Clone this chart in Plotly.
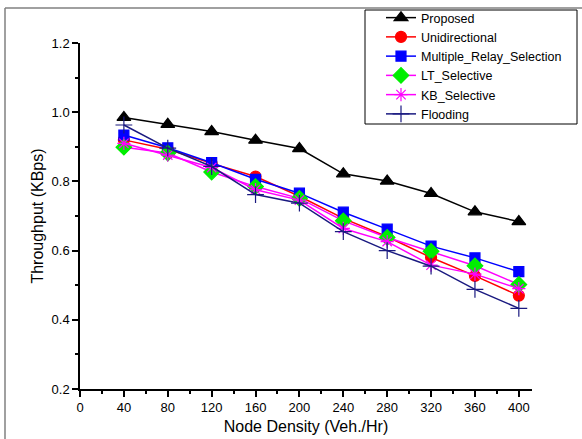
import plotly.graph_objects as go

node_density = [40, 80, 120, 160, 200, 240, 280, 320, 360, 400]
proposed = [0.985, 0.965, 0.944, 0.919, 0.895, 0.822, 0.801, 0.765, 0.712, 0.684]
unidirectional = [0.920, 0.893, 0.852, 0.814, 0.757, 0.693, 0.640, 0.580, 0.527, 0.470]
multiple_relay = [0.934, 0.897, 0.854, 0.806, 0.766, 0.711, 0.662, 0.613, 0.579, 0.539]
lt_selective = [0.899, 0.882, 0.827, 0.785, 0.751, 0.686, 0.638, 0.598, 0.556, 0.502]
kb_selective = [0.910, 0.876, 0.840, 0.776, 0.746, 0.664, 0.626, 0.558, 0.532, 0.490]
flooding = [0.963, 0.896, 0.843, 0.762, 0.737, 0.655, 0.600, 0.555, 0.488, 0.433]

x_ticks = [0, 40, 80, 120, 160, 200, 240, 280, 320, 360, 400]
y_ticks = [0.2, 0.4, 0.6, 0.8, 1.0, 1.2]

series = [
    ("Proposed", proposed, "black", "triangle-up", 12, None),
    ("Unidirectional", unidirectional, "red", "circle", 11, None),
    ("Multiple_Relay_Selection", multiple_relay, "blue", "square", 10, None),
    ("LT_Selective", lt_selective, "magenta", "diamond", 12, "#00ee00"),
    ("KB_Selective", kb_selective, "magenta", "asterisk-open", 11, None),
    ("Flooding", flooding, "#1a1a80", "cross-thin-open", 12, None),
]

fig = go.Figure()
for name, ys, color, sym, size, mcolor in series:
    mc = mcolor if mcolor else color
    fig.add_trace(go.Scatter(
        x=node_density, y=ys, name=name, mode="lines+markers",
        line=dict(color=color, width=1.5),
        marker=dict(symbol=sym, size=size, color=mc,
                    line=dict(color=mc, width=1.2)),
    ))

L, T, W, H = 80, 43, 452, 346


def px_x(p):
    return (p - L) / W


def px_y(p):
    return (T + H - p) / H


fig.update_layout(
    width=582, height=439,
    margin=dict(l=L, r=582 - L - W, t=T, b=439 - T - H, autoexpand=False),
    paper_bgcolor="white", plot_bgcolor="white",
    font=dict(family="Liberation Sans, Arial, sans-serif", size=13, color="black"),
    showlegend=True,
    legend=dict(
        x=px_x(381), y=px_y(3), xanchor="left", yanchor="top",
        borderwidth=0, bgcolor="rgba(0,0,0,0)",
        font=dict(size=12.5), tracegroupgap=0, itemwidth=30,
    ),
    xaxis=dict(
        range=[0, 412], tickvals=x_ticks, showgrid=False, zeroline=False, automargin=False,
        showline=True, linecolor="black", linewidth=1.5,
        ticks="outside", ticklen=6, tickwidth=1.5, tickcolor="black",
        minor=dict(dtick=20, tick0=0, ticks="outside", ticklen=3, tickwidth=1.5, tickcolor="black"),
        title=dict(text="Node Density (Veh./Hr)", font=dict(size=16), standoff=6),
        tickfont=dict(size=13),
    ),
    yaxis=dict(
        range=[0.2, 1.2], tickvals=y_ticks, tickformat=".1f", showgrid=False, zeroline=False,
        automargin=False,
        showline=True, linecolor="black", linewidth=1.5,
        ticks="outside", ticklen=6, tickwidth=1.5, tickcolor="black",
        minor=dict(dtick=0.1, tick0=0.2, ticks="outside", ticklen=3, tickwidth=1.5, tickcolor="black"),
        title=dict(text="Throughput (KBps)", font=dict(size=16), standoff=4),
        tickfont=dict(size=13),
    ),
)

# legend frame
fig.add_shape(type="rect", xref="paper", yref="paper",
              x0=px_x(365), x1=px_x(577), y0=px_y(124), y1=px_y(10),
              line=dict(color="black", width=1), fillcolor="white", layer="below")

# outer frame (grey) at left and top of the picture
xl = px_x(5)
yt = px_y(8)
fig.add_shape(type="line", xref="paper", yref="paper", x0=xl, x1=xl, y0=-0.3, y1=yt,
              line=dict(color="#808080", width=1.5))
fig.add_shape(type="line", xref="paper", yref="paper", x0=xl, x1=1.3, y0=yt, y1=yt,
              line=dict(color="#808080", width=1.5))

fig.write_html(
    "out.html",
    config={"displayModeBar": False},
    post_script="document.body.style.margin='0';document.body.style.overflow='hidden';",
)
